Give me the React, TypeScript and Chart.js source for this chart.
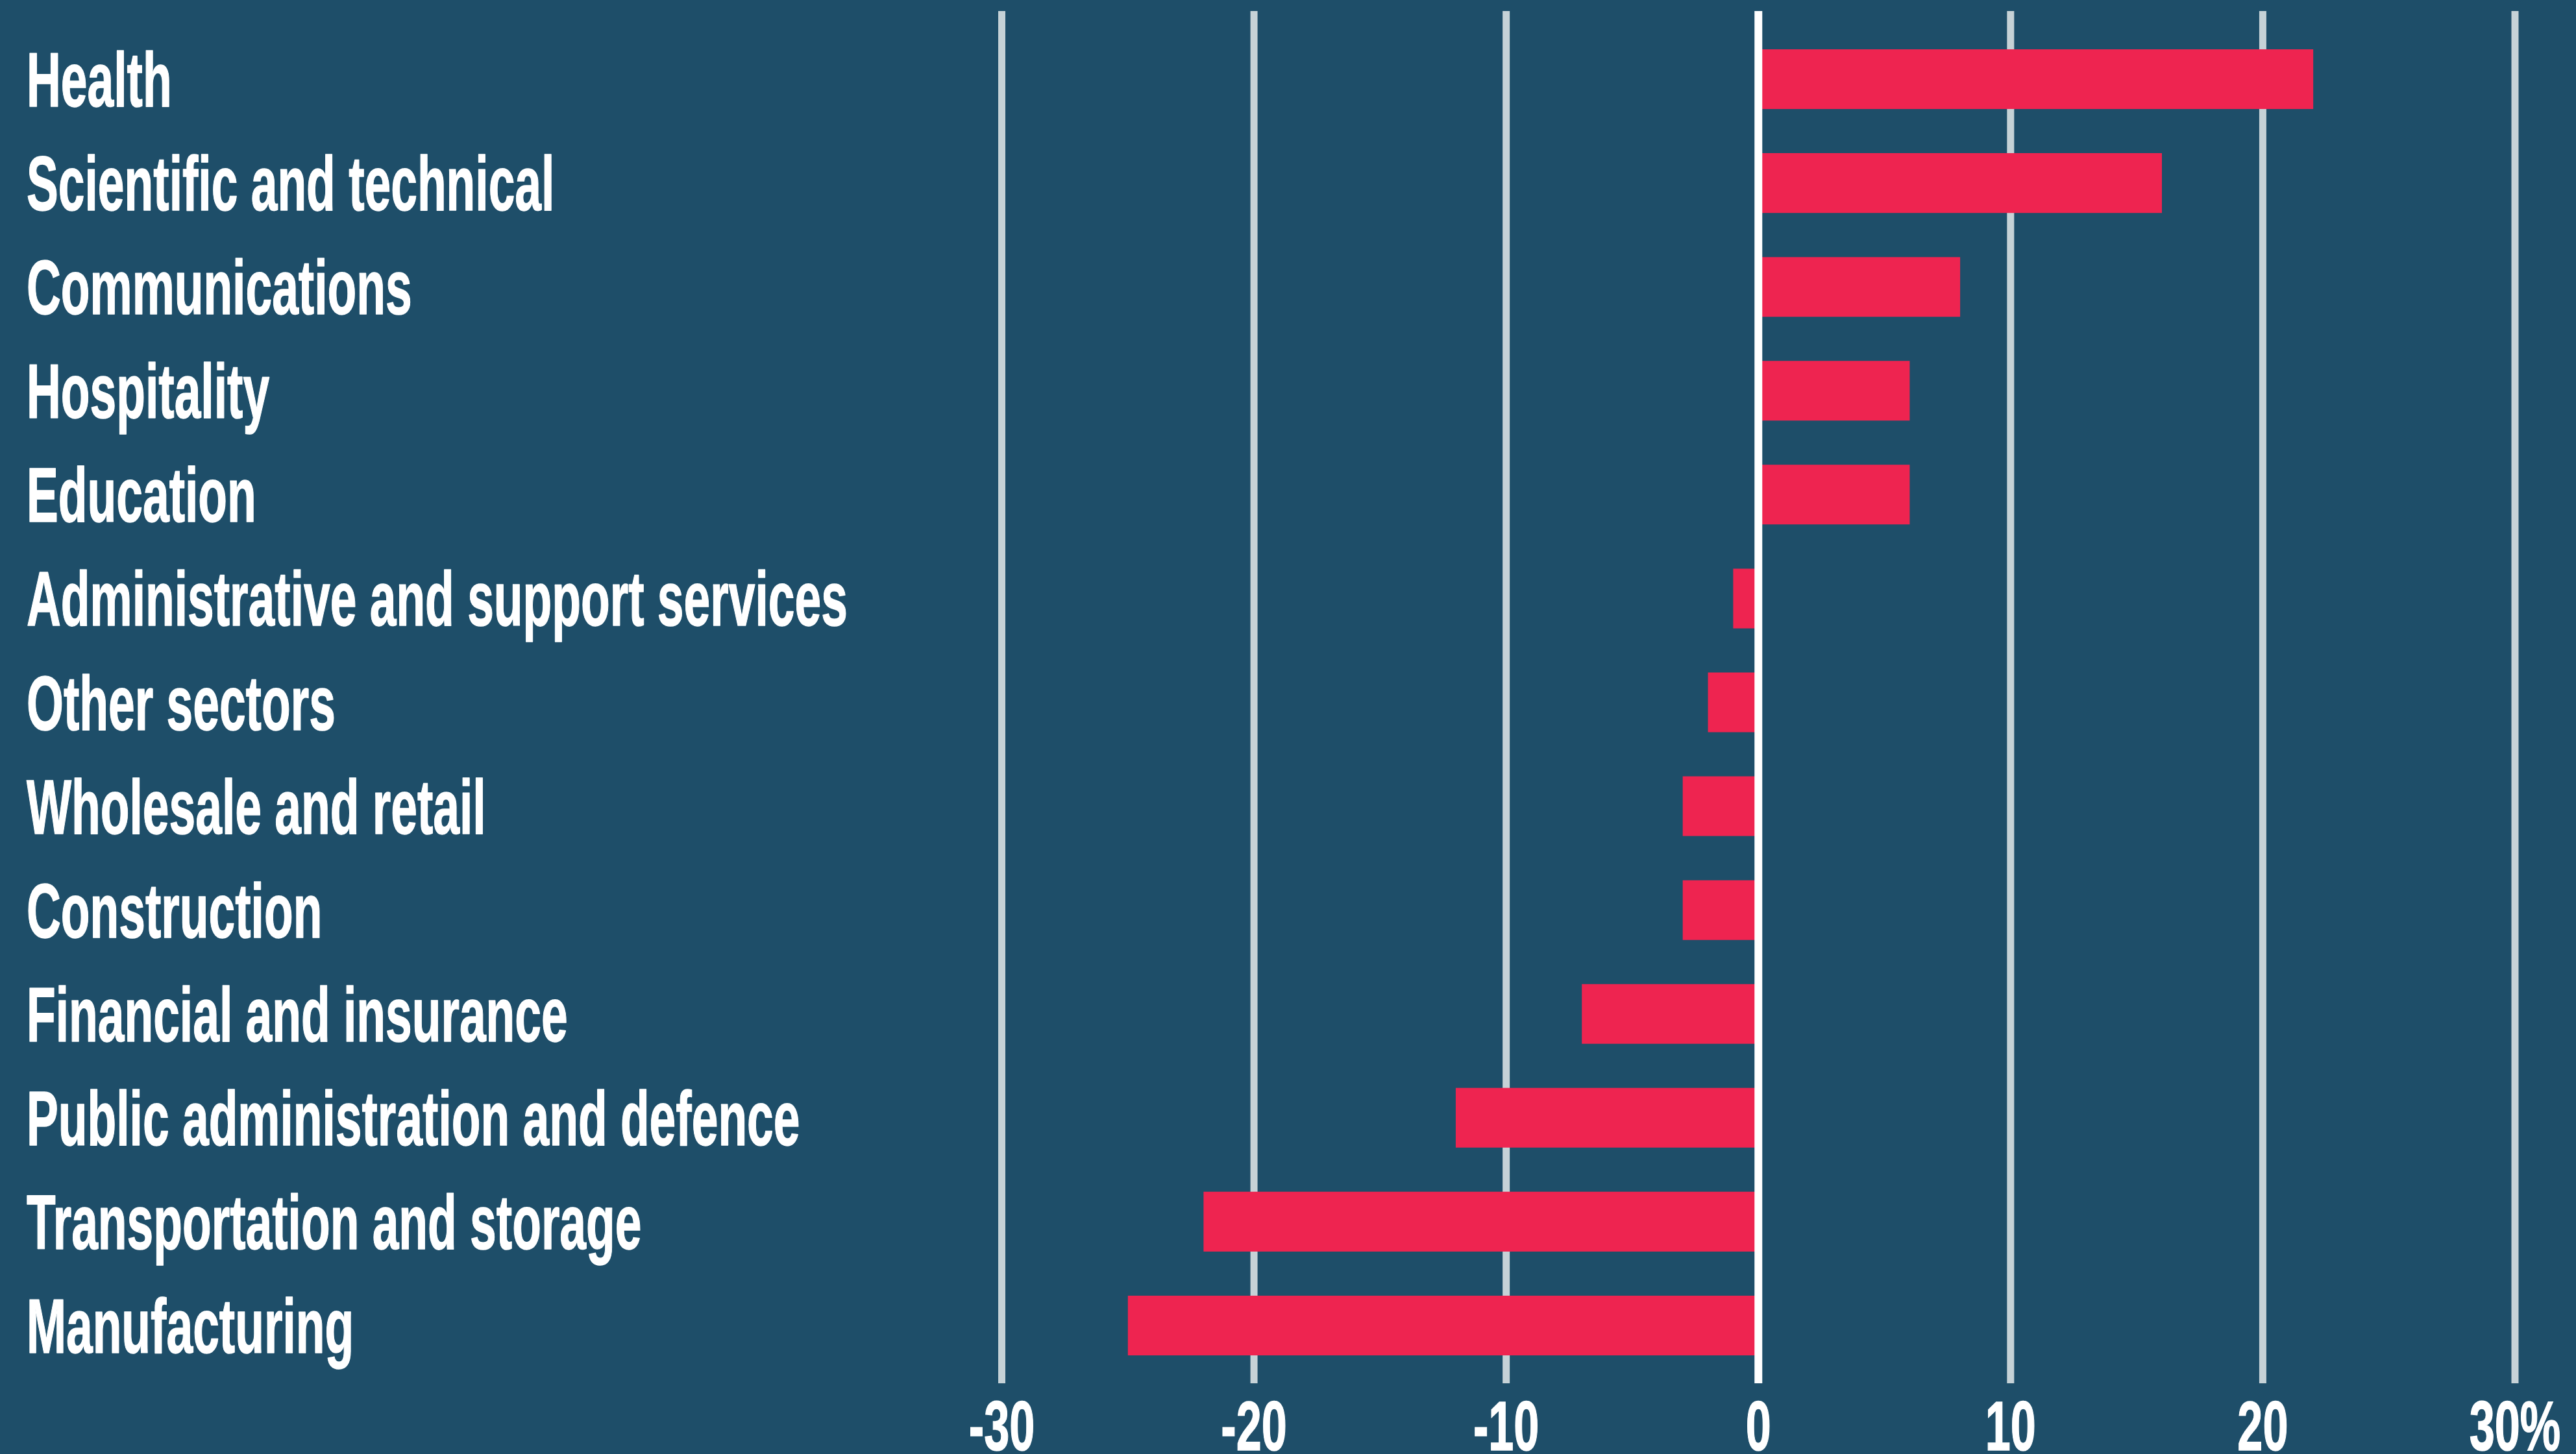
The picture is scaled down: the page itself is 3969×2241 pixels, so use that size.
import React, { useEffect, useRef } from "react";
import { Chart, registerables } from "chart.js";

Chart.register(...registerables);

const categories = [
  "Health",
  "Scientific and technical",
  "Communications",
  "Hospitality",
  "Education",
  "Administrative and support services",
  "Other sectors",
  "Wholesale and retail",
  "Construction",
  "Financial and insurance",
  "Public administration and defence",
  "Transportation and storage",
  "Manufacturing",
];

const changeValues = [22, 16, 8, 6, 6, -1, -2, -3, -3, -7, -12, -22, -25];

const xTickValues = [-30, -20, -10, 0, 10, 20, 30];
const xTickLabels = ["-30", "-20", "-10", "0", "10", "20", "30%"];

const BG = "#1e4e69";
const BAR = "#ee2450";
const GRID = "#c6d2d7";
const FONT = '"Liberation Sans", Arial, sans-serif';

export default function App() {
  const ref = useRef<HTMLCanvasElement | null>(null);

  useEffect(() => {
    document.body.style.margin = "0";
    const canvas = ref.current;
    if (!canvas) return;

    const gridPlugin = {
      id: "gridPlugin",
      beforeDatasetsDraw(chart: any) {
        const { ctx, chartArea } = chart;
        const xs = chart.scales.x;
        ctx.save();
        ctx.strokeStyle = GRID;
        ctx.lineWidth = 11;
        xTickValues.forEach((v) => {
          if (v === 0) return;
          const x = xs.getPixelForValue(v);
          ctx.beginPath();
          ctx.moveTo(x, chartArea.top - 25);
          ctx.lineTo(x, chartArea.bottom + 9);
          ctx.stroke();
        });
        ctx.restore();
      },
      afterDatasetsDraw(chart: any) {
        const { ctx, chartArea } = chart;
        const xs = chart.scales.x;
        const ys = chart.scales.y;
        // zero line above bars
        ctx.save();
        ctx.strokeStyle = "#ffffff";
        ctx.lineWidth = 12;
        const x0 = xs.getPixelForValue(0);
        ctx.beginPath();
        ctx.moveTo(x0, chartArea.top - 25);
        ctx.lineTo(x0, chartArea.bottom + 9);
        ctx.stroke();
        ctx.restore();

        // category labels (condensed)
        const sy = 0.615;
        ctx.save();
        ctx.fillStyle = "#ffffff";
        ctx.strokeStyle = "#ffffff";
        ctx.lineWidth = 1.5;
        ctx.lineJoin = "round";
        ctx.font = `bold 119px ${FONT}`;
        ctx.textAlign = "left";
        ctx.textBaseline = "alphabetic";
        ctx.scale(sy, 1);
        categories.forEach((c, i) => {
          const y = ys.getPixelForValue(i);
          ctx.fillText(c, 41 / sy, y + 42);
          ctx.strokeText(c, 41 / sy, y + 42);
        });
        ctx.restore();

        // x tick labels (condensed)
        const sx = 0.65;
        ctx.save();
        ctx.fillStyle = "#ffffff";
        ctx.strokeStyle = "#ffffff";
        ctx.lineWidth = 1.5;
        ctx.font = `bold 108px ${FONT}`;
        ctx.textAlign = "center";
        ctx.textBaseline = "alphabetic";
        ctx.scale(sx, 1);
        xTickValues.forEach((v, i) => {
          const x = xs.getPixelForValue(v);
          ctx.fillText(xTickLabels[i], x / sx, chartArea.bottom + 112);
          ctx.strokeText(xTickLabels[i], x / sx, chartArea.bottom + 112);
        });
        ctx.restore();
      },
    };

    const chart = new Chart(canvas, {
      type: "bar",
      data: {
        labels: categories,
        datasets: [
          {
            data: changeValues,
            backgroundColor: BAR,
            borderWidth: 0,
            categoryPercentage: 1,
            barPercentage: 0.575,
          },
        ],
      },
      options: {
        indexAxis: "y",
        animation: false,
        responsive: true,
        maintainAspectRatio: false,
        layout: { padding: { left: 1543.5, right: 94, top: 42, bottom: 118 } },
        scales: {
          x: { type: "linear", min: -30, max: 30, ticks: { stepSize: 10 }, display: false },
          y: { type: "category", display: false },
        },
        plugins: { legend: { display: false }, tooltip: { enabled: false } },
      },
      plugins: [gridPlugin],
    } as any);

    return () => chart.destroy();
  }, []);

  return (
    <div style={{ position: "fixed", left: 0, top: 0, width: "100vw", height: "100vh", background: BG }}>
      <canvas ref={ref} />
    </div>
  );
}
